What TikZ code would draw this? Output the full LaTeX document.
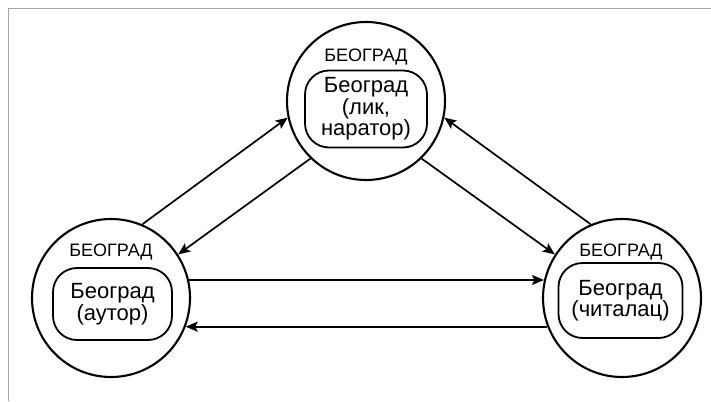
\documentclass[tikz,border=0pt]{standalone}
\usepackage{fontspec}
\setmainfont{Liberation Sans}
\usetikzlibrary{arrows.meta}
\begin{document}
\begin{tikzpicture}[x=1pt,y=-1pt,
  town/.style={circle,draw=black,line width=2.1pt,minimum size=158pt,inner sep=0pt},
  inner/.style={draw=black,line width=1.8pt,rounded corners=24pt,minimum width=120pt,minimum height=74pt,align=center,inner sep=0pt,
    font=\fontsize{22}{18}\selectfont,text=black},
  lbl/.style={font=\fontsize{18}{19}\selectfont,text=black,inner sep=0pt},
  arr/.style={line width=1.7pt,-{Stealth[length=12pt,width=10pt,inset=2.5pt]}},
  frame/.style={draw=black!35,line width=1pt}]
\useasboundingbox (0,0) rectangle (711,401);
\coordinate (f1) at (8,401);
\coordinate (f2) at (8,9);
\coordinate (f3) at (711,9);
\draw[frame] (f1) -- (f2) -- (f3);

\node[town] (T) at (366,101) {};
\node[town] (L) at (111,298) {};
\node[town] (R) at (622,298) {};

\node[lbl] (Tl) at (366,57) {БЕОГРАД};
\node[lbl] (Ll) at (111,252) {БЕОГРАД};
\node[lbl] (Rl) at (621,252) {БЕОГРАД};

\node[inner,minimum width=122pt,minimum height=77pt] (Ti) at (366,109) {Београд\\(лик,\\наратор)};
\node[inner,minimum width=119pt,minimum height=72pt] (Li) at (112.5,304) {Београд\\(аутор)};
\node[inner,minimum width=124pt,minimum height=75pt] (Ri) at (620.5,300.5) {Београд\\(читалац)};

\draw[arr] (L.67) -- (T.192);
\draw[arr] (T.226) -- (L.33);
\draw[arr] (T.314) -- (R.147);
\draw[arr] (R.113) -- (T.348);
\draw[arr] (L.13) -- (R.167);
\draw[arr] (R.201.5) -- (L.-21.5);
\end{tikzpicture}
\end{document}
